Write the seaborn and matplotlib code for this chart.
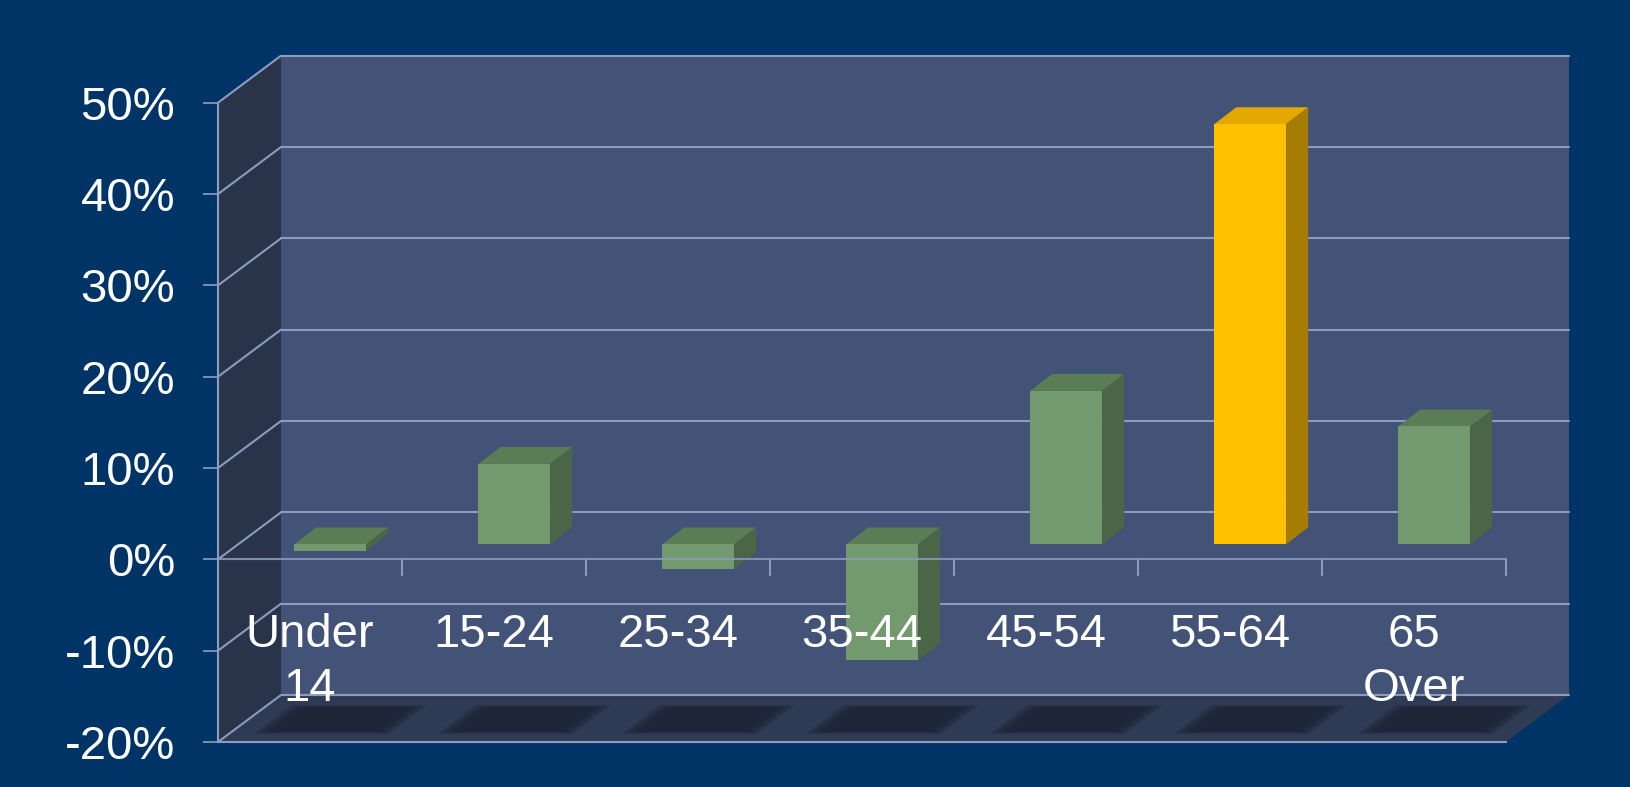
import numpy as np
import pandas as pd
import matplotlib
matplotlib.use("Agg")
import matplotlib.pyplot as plt
import seaborn as sns
from matplotlib.patches import Polygon

# ---------------- data ----------------
categories = ["Under\n14", "15-24", "25-34", "35-44", "45-54", "55-64", "65\nOver"]
values = [-0.7, 8.8, -2.7, -12.7, 16.8, 46.0, 12.9]
highlight = "55-64"
yticks = [-20, -10, 0, 10, 20, 30, 40, 50]
ytick_labels = ["-20%", "-10%", "0%", "10%", "20%", "30%", "40%", "50%"]

# ---------------- style ----------------
NAVY = "#013466"
BACK = "#425377"
LEFTW = "#29334a"
FLOOR = "#2f3a55"
GRID = "#8c9cbd"
SHADOW = "#1b2233"
GREEN = ("#739a6f", "#5a7d55", "#4a6646")   # front, top, side
GOLD = ("#ffc000", "#e3a900", "#a67d00")

sns.set_theme(style="white")
plt.rcParams["font.family"] = ["Liberation Sans", "DejaVu Sans"]

W, H = 1630, 787
fig = plt.figure(figsize=(W / 100, H / 100), dpi=100)
fig.patch.set_facecolor(NAVY)

# axes = front plane of the 3-D box
x_left, x_right, y_top, y_bot = 218, 1506, 102.7, 742
ax = fig.add_axes([x_left / W, (H - y_bot) / H, (x_right - x_left) / W, (y_bot - y_top) / H])
ax.patch.set_visible(False)
ax.set_xlim(-0.5, len(categories) - 0.5)
ax.set_ylim(yticks[0], yticks[-1])

px_x = (x_right - x_left) / len(categories)
px_y = (y_bot - y_top) / (yticks[-1] - yticks[0])
DX = 63 / px_x          # depth offset in x data units
DY = 47 / px_y          # depth offset in y data units
x0, x1 = -0.5, len(categories) - 0.5
ymin, ymax = yticks[0], yticks[-1]

def poly(pts, color, z, **kw):
    ax.add_patch(Polygon(pts, closed=True, facecolor=color, edgecolor="none",
                         linewidth=0, zorder=z, clip_on=False, **kw))

# walls and floor
poly([(x0 + DX, ymin + DY), (x1 + DX, ymin + DY), (x1 + DX, ymax + DY), (x0 + DX, ymax + DY)], BACK, 0.1)
poly([(x0, ymin), (x0 + DX, ymin + DY), (x0 + DX, ymax + DY), (x0, ymax)], LEFTW, 0.15)
poly([(x0, ymin), (x1, ymin), (x1 + DX, ymin + DY), (x0 + DX, ymin + DY)], FLOOR, 0.15)

# gridlines on back and left walls
for t in yticks:
    ax.plot([x0 + DX, x1 + DX], [t + DY, t + DY], color=GRID, lw=1.5, zorder=0.2, clip_on=False)
    ax.plot([x0, x0 + DX], [t, t + DY], color=GRID, lw=1.5, zorder=0.2, clip_on=False)

# soft shadows on the floor
f0, f1, sw = 0.24, 0.72, 0.56
for i in range(len(categories)):
    for k in np.linspace(0.09, 0.0, 8):
        w = sw + 2 * k
        fa, fb = f0 - k * 0.7, f1 + k * 0.7
        pts = [(i - w / 2 + fa * DX, ymin + fa * DY), (i + w / 2 + fa * DX, ymin + fa * DY),
               (i + w / 2 + fb * DX, ymin + fb * DY), (i - w / 2 + fb * DX, ymin + fb * DY)]
        poly(pts, SHADOW, 0.3, alpha=0.2)

# ---------------- bars (front faces via seaborn) ----------------
df = pd.DataFrame({"cat": categories, "val": values})
palette = {c: (GOLD[0] if c == highlight else GREEN[0]) for c in categories}
sns.barplot(data=df, x="cat", y="val", hue="cat", palette=palette, order=categories,
            hue_order=categories, width=0.391, saturation=1, errorbar=None,
            legend=False, ax=ax, zorder=3, linewidth=0, edgecolor="none")

OX, OY = 0.32 * DX, 0.32 * DY     # bar front plane depth
BDX, BDY = 0.35 * DX, 0.36 * DY   # bar depth
for p in list(ax.patches):
    if not isinstance(p, matplotlib.patches.Rectangle) or p.get_width() > 1:
        continue
    cx = p.get_x() + p.get_width() / 2
    idx = int(round(cx))
    if idx < 0 or idx >= len(categories):
        continue
    cols = GOLD if categories[idx] == highlight else GREEN
    p.set_x(p.get_x() + OX)
    p.set_y(p.get_y() + OY)
    p.set_zorder(3)
    p.set_linewidth(0)
    p.set_edgecolor("none")
    p.set_clip_on(False)
    xa, xb = p.get_x(), p.get_x() + p.get_width()
    ya, yb = sorted([p.get_y(), p.get_y() + p.get_height()])
    # top face
    poly([(xa, yb), (xb, yb), (xb + BDX, yb + BDY), (xa + BDX, yb + BDY)], cols[1], 2.9)
    # side face
    poly([(xb, ya), (xb, yb), (xb + BDX, yb + BDY), (xb + BDX, ya + BDY)], cols[2], 2.9)

# front zero line with category ticks
ax.plot([x0, x1], [0, 0], color=GRID, lw=1.5, zorder=4, alpha=0.85, clip_on=False)
tick_len = 16 / px_y
for i in range(len(categories)):
    ax.plot([i + 0.5, i + 0.5], [0, -tick_len], color=GRID, lw=1.5, zorder=4, clip_on=False)

# category labels (inside the plot box)
base1 = (559.4 - 647) / px_y
base2 = (559.4 - 701) / px_y
for i, c in enumerate(categories):
    for j, line in enumerate(c.split("\n")):
        ax.text(i, base1 if j == 0 else base2, line, ha="center", va="baseline",
                color="white", fontsize=34, zorder=5)

# axes: left spine + y ticks, bottom spine = front floor edge
ax.set_xlabel("")
ax.set_ylabel("")
ax.set_xticks([])
ax.set_yticks(yticks)
ax.set_yticklabels(ytick_labels)
ax.tick_params(axis="y", direction="out", length=15 * 0.72, width=1.2, color=GRID,
               pad=28 * 0.72, labelsize=34, labelcolor="white", left=True)
for s in ["top", "right"]:
    ax.spines[s].set_visible(False)
for s in ["left", "bottom"]:
    ax.spines[s].set_color(GRID)
    ax.spines[s].set_linewidth(1.5)
    ax.spines[s].set_zorder(2.5)

fig.savefig("out.png", dpi=100, facecolor=NAVY)
